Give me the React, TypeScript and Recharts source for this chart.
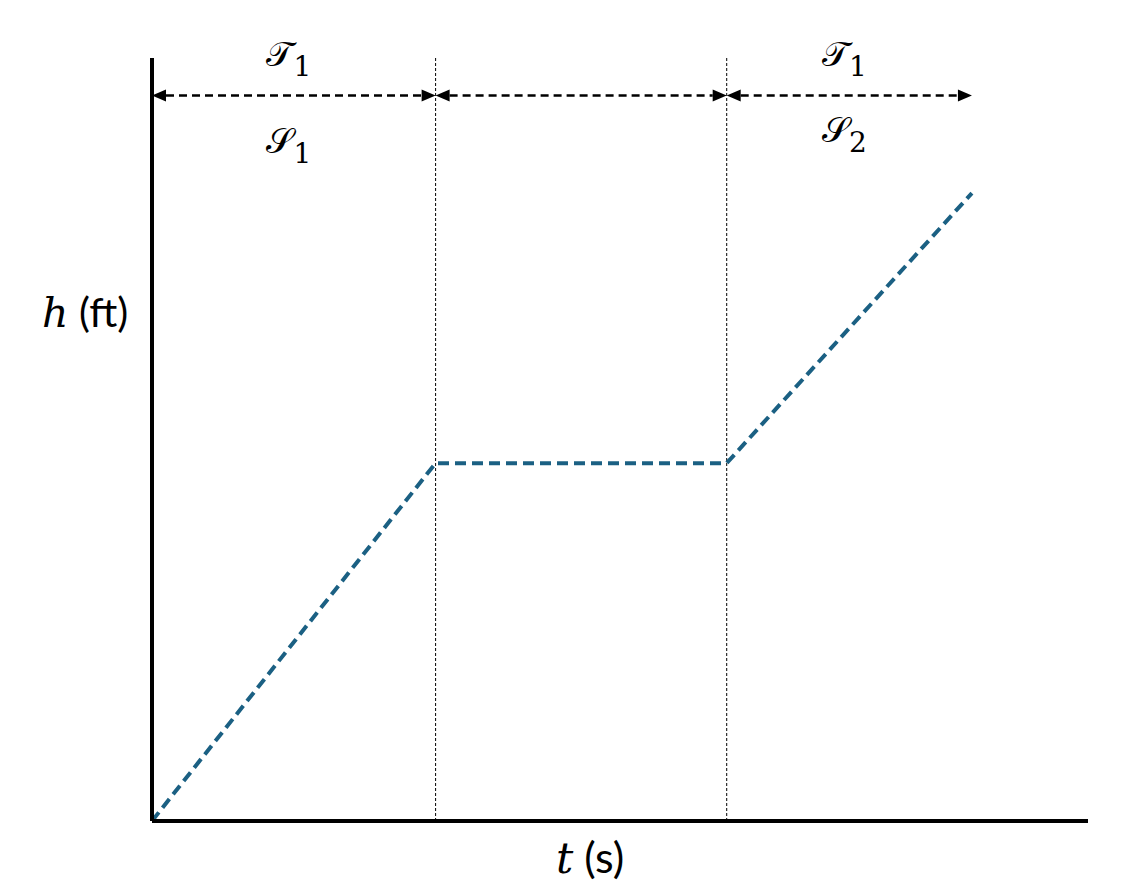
import React from "react";
import { LineChart, Line, XAxis, YAxis, ReferenceLine } from "recharts";

// h(t) profile: climb, hold, climb again
const times = [0, 30.3, 61.4, 87.6];
const heights = [0, 46.9, 46.9, 82.3];

// dotted dividers between phases
const dividerTimes = [30.3, 61.4];

// dimension arrows above the plot
const spanStarts = [0, 30.3, 61.4];
const spanEnds = [30.3, 61.4, 87.6];
const arrowLevel = 95.1;
const topLetters = ["\u{1D4AF}", "", "\u{1D4AF}"];
const topSubs = ["1", "", "1"];
const bottomLetters = ["\u{1D4AE}", "", "\u{1D4AE}"];
const bottomSubs = ["1", "", "2"];

const data = times.map((t, i) => ({ t, h: heights[i] }));

const MATH_FONT = "'DejaVu Serif', 'Liberation Serif', serif";
const SANS_FONT = "Lato, 'Open Sans', sans-serif";

function Arrow(props: any, i: number) {
  const { x1, y1, x2 } = props;
  const y = y1;
  const head = 14;
  const half = 6;
  const mid = (x1 + x2) / 2 - 5;
  return (
    <g>
      <line
        x1={x1 + head}
        y1={y}
        x2={x2 - head}
        y2={y}
        stroke="#000"
        strokeWidth={2.5}
        strokeDasharray="8 5"
      />
      <polygon points={`${x1},${y} ${x1 + head},${y - half} ${x1 + head},${y + half}`} fill="#000" />
      <polygon points={`${x2},${y} ${x2 - head},${y - half} ${x2 - head},${y + half}`} fill="#000" />
      {topLetters[i] && (
        <text x={mid} y={y - 29} textAnchor="middle" fontFamily={MATH_FONT} style={{ fontSize: 35 }} fill="#000">
          <tspan>{topLetters[i]}</tspan>
          <tspan dy={10} style={{ fontSize: 28 }}>{topSubs[i]}</tspan>
        </text>
      )}
      {bottomLetters[i] && (
        <text x={mid} y={y + (i === 0 ? 58 : 47)} textAnchor="middle" fontFamily={MATH_FONT} style={{ fontSize: 35 }} fill="#000">
          <tspan>{bottomLetters[i]}</tspan>
          <tspan dy={10} style={{ fontSize: 28 }}>{bottomSubs[i]}</tspan>
        </text>
      )}
    </g>
  );
}

function YLabel(props: any) {
  const { viewBox } = props;
  return (
    <text x={viewBox.x + 42} y={viewBox.y + 269} fill="#000" style={{ fontSize: 41 }}>
      <tspan fontFamily={MATH_FONT} fontStyle="italic">h</tspan>
      <tspan fontFamily={SANS_FONT}> (ft)</tspan>
    </text>
  );
}

function XLabel(props: any) {
  const { viewBox } = props;
  return (
    <text x={556} y={viewBox.y + 52} fill="#000" style={{ fontSize: 43 }}>
      <tspan fontFamily={MATH_FONT} fontStyle="italic">t</tspan>
      <tspan fontFamily={SANS_FONT}> (s)</tspan>
    </text>
  );
}

export default function App() {
  return (
    <div style={{ position: "absolute", left: 0, top: 0, width: 1140, height: 892, background: "#fff" }}>
      <LineChart width={1140} height={892} data={data} margin={{ top: 58, right: 52, bottom: 0, left: 0 }}>
        <XAxis
          dataKey="t"
          type="number"
          domain={[0, 100]}
          height={71}
          tick={false}
          tickLine={false}
          axisLine={{ stroke: "#000", strokeWidth: 4 }}
          label={<XLabel />}
        />
        <YAxis
          type="number"
          domain={[0, 100]}
          width={152}
          tick={false}
          tickLine={false}
          axisLine={{ stroke: "#000", strokeWidth: 4 }}
          label={<YLabel />}
        />
        {dividerTimes.map((t) => (
          <ReferenceLine key={t} x={t} stroke="#000" strokeWidth={1} strokeDasharray="3 2" />
        ))}
        {spanStarts.map((s, i) => (
          <ReferenceLine
            key={`span-${i}`}
            segment={[
              { x: s, y: arrowLevel },
              { x: spanEnds[i], y: arrowLevel },
            ]}
            ifOverflow="visible"
            shape={(p: any) => Arrow(p, i)}
          />
        ))}
        <Line
          type="linear"
          dataKey="h"
          stroke="#1b6083"
          strokeWidth={4}
          strokeDasharray="11 6"
          dot={false}
          activeDot={false}
          isAnimationActive={false}
        />
      </LineChart>
    </div>
  );
}
